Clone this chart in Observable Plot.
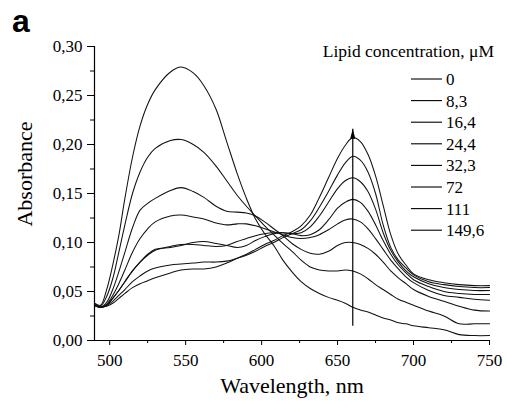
<!DOCTYPE html>
<html><head><meta charset="utf-8">
<script src="https://cdn.jsdelivr.net/npm/d3@7"></script>
<script src="https://cdn.jsdelivr.net/npm/@observablehq/plot@0.6"></script>
<style>
body{margin:0;background:#fff;}
#wrap{position:relative;width:508px;height:407px;background:#fff;}
#wrap svg{position:absolute;left:0;top:0;}
#wrap svg text{font-family:"Liberation Serif",serif;}
#wrap svg text.sans{font-family:"Liberation Sans",sans-serif;}
</style></head><body><div id="wrap"></div>
<script>
const wavelengths = [490,494,498,502,506,510,515,520,525,530,540,547,555,562,570,577,584,590,596,602,608,614,620,626,632,638,644,650,655,660,665,670,675,680,685,690,695,700,710,720,730,740,750];
const concentrations = ["0","8,3","16,4","24,4","32,3","72","111","149,6"];
const abs_0   = [0.038,0.036,0.052,0.077,0.107,0.145,0.187,0.219,0.241,0.256,0.274,0.279,0.273,0.260,0.236,0.203,0.170,0.145,0.124,0.109,0.097,0.082,0.070,0.060,0.053,0.048,0.044,0.041,0.038,0.034,0.031,0.029,0.026,0.023,0.021,0.018,0.017,0.015,0.013,0.011,0.006,0.005,0.005];
const abs_8_3 = [0.037,0.035,0.045,0.063,0.090,0.118,0.150,0.172,0.187,0.196,0.204,0.205,0.200,0.192,0.178,0.163,0.148,0.137,0.127,0.117,0.108,0.099,0.091,0.082,0.075,0.072,0.071,0.071,0.072,0.071,0.068,0.063,0.057,0.052,0.047,0.042,0.039,0.036,0.030,0.025,0.017,0.017,0.017];
const abs_16_4= [0.036,0.034,0.039,0.052,0.070,0.090,0.115,0.133,0.140,0.145,0.153,0.156,0.152,0.146,0.137,0.132,0.131,0.130,0.127,0.121,0.114,0.107,0.099,0.093,0.089,0.088,0.091,0.097,0.100,0.100,0.098,0.094,0.088,0.080,0.071,0.064,0.058,0.052,0.045,0.040,0.035,0.031,0.030];
const abs_24_4= [0.036,0.034,0.037,0.046,0.058,0.072,0.090,0.104,0.114,0.121,0.127,0.128,0.126,0.124,0.120,0.118,0.119,0.119,0.117,0.114,0.111,0.108,0.105,0.104,0.105,0.108,0.113,0.119,0.123,0.124,0.121,0.114,0.104,0.093,0.082,0.073,0.065,0.059,0.051,0.046,0.044,0.042,0.041];
const abs_32_3= [0.036,0.034,0.036,0.043,0.051,0.060,0.071,0.080,0.088,0.093,0.095,0.097,0.100,0.101,0.099,0.097,0.095,0.097,0.102,0.106,0.109,0.110,0.109,0.107,0.108,0.113,0.123,0.135,0.141,0.144,0.141,0.132,0.118,0.102,0.088,0.077,0.069,0.062,0.055,0.050,0.048,0.047,0.047];
const abs_72  = [0.036,0.034,0.036,0.043,0.051,0.060,0.071,0.080,0.087,0.092,0.096,0.098,0.098,0.097,0.096,0.097,0.101,0.104,0.107,0.109,0.110,0.110,0.109,0.110,0.116,0.127,0.141,0.155,0.163,0.166,0.162,0.152,0.134,0.110,0.092,0.080,0.071,0.065,0.058,0.054,0.052,0.051,0.051];
const abs_111 = [0.036,0.034,0.036,0.040,0.046,0.052,0.060,0.066,0.071,0.074,0.077,0.078,0.079,0.080,0.080,0.081,0.084,0.087,0.091,0.096,0.100,0.105,0.109,0.113,0.122,0.136,0.152,0.169,0.181,0.188,0.184,0.172,0.150,0.118,0.095,0.082,0.074,0.067,0.060,0.057,0.055,0.054,0.054];
const abs_149_6=[0.036,0.034,0.035,0.038,0.043,0.048,0.054,0.058,0.061,0.064,0.069,0.072,0.073,0.073,0.075,0.079,0.084,0.088,0.093,0.098,0.102,0.107,0.111,0.117,0.128,0.146,0.166,0.186,0.199,0.207,0.203,0.190,0.168,0.138,0.108,0.088,0.077,0.068,0.062,0.059,0.057,0.056,0.056];
const xTicks = [500,550,600,650,700,750];
const xMinorTicks = [525,575,625,675,725];
const yTicks = [0,0.05,0.10,0.15,0.20,0.25,0.30];
const yMinorTicks = [0.025,0.075,0.125,0.175,0.225,0.275];
const arrowWavelength = 660, arrowFrom = 0.015, arrowTo = 0.216;

const seriesList = [abs_0,abs_8_3,abs_16_4,abs_24_4,abs_32_3,abs_72,abs_111,abs_149_6];
const data = seriesList.flatMap((s,i)=>s.map((a,j)=>({nm:wavelengths[j], a, c:concentrations[i]})));
const arrowData = [{x:arrowWavelength, y1:arrowFrom, y2:arrowTo}];
const fmt = d => d.toFixed(2).replace(".", ",");
const head = {draw(ctx){ ctx.moveTo(0,0); ctx.lineTo(-2.6,10); ctx.lineTo(2.6,10); ctx.closePath(); }};

const W=508,H=407, mL=94, mR=19, mT=46, mB=67;
const plot = Plot.plot({
  width:W, height:H, marginLeft:mL, marginRight:mR, marginTop:mT, marginBottom:mB,
  x:{domain:[490,750], label:null},
  y:{domain:[0,0.30], label:null},
  style:{fontFamily:"Liberation Serif", fontSize:"17px", color:"#000", background:"transparent", overflow:"visible"},
  marks:[
    Plot.line(data,{x:"nm", y:"a", z:"c", stroke:"#111", strokeWidth:1.05, curve:"catmull-rom"}),
    Plot.link(arrowData,{x1:"x", x2:"x", y1:"y1", y2:"y2", stroke:"#000", strokeWidth:1.2}),
    Plot.dot(arrowData,{x:"x", y:"y2", symbol:head, fill:"#000", stroke:"none", r:3}),
    Plot.axisX(xTicks,{tickSize:5, tickPadding:8, tickFormat:d=>String(d), label:null, stroke:"#000"}),
    Plot.axisX(xMinorTicks,{tickSize:3, tickFormat:()=>"", label:null, stroke:"#000"}),
    Plot.axisY(yTicks,{tickSize:7, tickPadding:5, tickFormat:fmt, label:null, stroke:"#000"}),
    Plot.axisY(yMinorTicks,{tickSize:4, tickFormat:()=>"", label:null, stroke:"#000"}),
    Plot.ruleY([0],{stroke:"#000", strokeWidth:1.2}),
    Plot.ruleX([490],{stroke:"#000", strokeWidth:1.2})
  ]
});
const wrap = document.getElementById("wrap");
wrap.appendChild(plot);

// annotations overlay (titles, legend)
const ns="http://www.w3.org/2000/svg";
const ov = document.createElementNS(ns,"svg");
ov.setAttribute("width",W); ov.setAttribute("height",H);
function txt(s,x,y,opts={}){const t=document.createElementNS(ns,"text");t.textContent=s;t.setAttribute("x",x);t.setAttribute("y",y);for(const k in opts)t.setAttribute(k,opts[k]);ov.appendChild(t);return t;}
txt("a",12,32,{"class":"sans","font-weight":"bold","font-size":"32"});
txt("Absorbance",0,0,{"font-size":"22","text-anchor":"middle",transform:"translate(32,174) rotate(-90)"});
txt("Wavelength, nm",292,393,{"font-size":"22","text-anchor":"middle"});
txt("Lipid concentration, \u03bcM",494,57,{"font-size":"17.5","text-anchor":"end"});
concentrations.forEach((c,i)=>{
  const yc = 79 + i*21.6;
  const l=document.createElementNS(ns,"line");
  l.setAttribute("x1",411);l.setAttribute("x2",442);l.setAttribute("y1",yc);l.setAttribute("y2",yc);
  l.setAttribute("stroke","#000");l.setAttribute("stroke-width","1.1");ov.appendChild(l);
  txt(c,446,yc+6,{"font-size":"17"});
});
wrap.appendChild(ov);
</script></body></html>
